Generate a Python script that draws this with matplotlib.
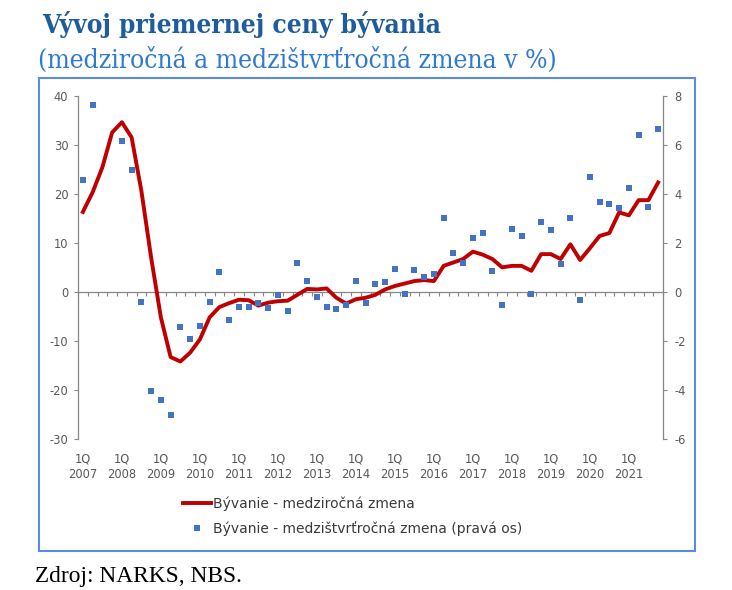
import numpy as np
import matplotlib
matplotlib.use("Agg")
import matplotlib.pyplot as plt
import matplotlib.transforms as mtransforms
from matplotlib.patches import Rectangle
from matplotlib import font_manager

plt.rcParams["axes.unicode_minus"] = False

# ---- data ----
years = list(range(2007, 2022))
quarters = [f"{y}Q{q}" for y in years for q in range(1, 5)]
tick_labels = [f"1Q\n{y}" for y in years]

yoy = [16.3, 20.3, 25.4, 32.5, 34.6, 31.5, 20.6, 7.0, -5.2, -13.3,
       -14.2, -12.4, -9.7, -5.2, -3.1, -2.3, -1.6, -1.7, -2.8, -2.2,
       -1.9, -1.8, -0.6, 0.6, 0.5, 0.7, -1.2, -2.4, -1.5, -1.2,
       -0.6, 0.5, 1.2, 1.7, 2.2, 2.4, 2.2, 5.3, 6.0, 6.7,
       8.2, 7.6, 6.7, 5.0, 5.3, 5.3, 4.3, 7.7, 7.7, 6.7,
       9.7, 6.5, 8.9, 11.4, 12.0, 16.2, 15.6, 18.7, 18.7, 22.3]

qoq = [4.56, 7.62, np.nan, np.nan, 6.16, 4.98, -0.41, -4.05, -4.41, -5.02,
       -1.43, -1.93, -1.40, -0.41, 0.79, -1.13, -0.60, -0.63, -0.44, -0.67,
       -0.14, -0.78, 1.17, 0.44, -0.20, -0.63, -0.71, -0.53, 0.44, -0.44,
       0.33, 0.41, 0.92, -0.07, 0.90, 0.60, 0.73, 3.03, 1.58, 1.16,
       2.19, 2.39, 0.86, -0.53, 2.57, 2.26, -0.10, 2.86, 2.53, 1.13,
       3.03, -0.33, 4.70, 3.65, 3.58, 3.41, 4.22, 6.40, 3.46, 6.64]

label_line = "Bývanie - medziročná zmena"
label_sq = "Bývanie - medzištvrťročná zmena (pravá os)"
title = "Vývoj priemernej ceny bývania"
subtitle = "(medziročná a medzištvrťročná zmena v %)"
source = "Zdroj: NARKS, NBS."

# condensed serif if available
serif_fam = "Liberation Serif"
serif_stretch = "normal"
try:
    fp = font_manager.FontProperties(family="DejaVu Serif", stretch="condensed")
    path = font_manager.findfont(fp, fallback_to_default=False)
    if "Condensed" in path:
        serif_fam = "DejaVu Serif"
        serif_stretch = "condensed"
except Exception:
    pass

# ---- figure ----
W, H = 732, 590
fig = plt.figure(figsize=(W / 100, H / 100), dpi=100)
fig.patch.set_facecolor("white")

def fx(px):
    return px / W

def fy(py):
    return 1 - py / H

ax_l, ax_r, ax_t, ax_b = 78, 663, 95.7, 439
ax = fig.add_axes([fx(ax_l), fy(ax_b), fx(ax_r - ax_l), (ax_b - ax_t) / H])
ax2 = ax.twinx()

x = np.arange(len(quarters))
gray = "#868686"
tcol = "#595959"

ax.plot(x, yoy, color="#C00000", lw=2.8, solid_joinstyle="round", zorder=3,
        label=label_line)
ax2.plot(x, qoq, ls="none", marker="s", ms=5.0, color="#4472C4",
         markeredgewidth=0, label=label_sq)

ax.set_xlim(-0.5, len(quarters) - 0.5)
ax.set_ylim(-30, 40)
ax2.set_ylim(-6, 8)
ax.set_yticks(np.arange(-30, 41, 10))
ax2.set_yticks(np.arange(-6, 9, 2))

for a in (ax, ax2):
    a.set_facecolor("none")
    a.spines["top"].set_visible(False)
    for s in ("left", "right"):
        a.spines[s].set_color(gray)
        a.spines[s].set_linewidth(0.9)
ax.spines["right"].set_visible(False)
ax2.spines["left"].set_visible(False)
ax2.spines["bottom"].set_visible(False)

ax.spines["bottom"].set_position(("data", 0))
ax.spines["bottom"].set_color(gray)
ax.spines["bottom"].set_linewidth(0.9)
ax.set_xticks(np.arange(-0.5, len(quarters), 1))
ax.set_xticklabels([])
ax.tick_params(axis="x", length=3, width=0.8, color=gray, direction="out")
ax.tick_params(axis="y", length=3, width=0.8, color=gray, labelcolor=tcol,
               labelsize=8.3, pad=4)
ax2.tick_params(axis="y", length=3, width=0.8, color=gray, labelcolor=tcol,
                labelsize=8.3, pad=5)

trans = mtransforms.blended_transform_factory(ax.transData, ax.transAxes)
for i, lab in enumerate(tick_labels):
    ax.text(x[i * 4], -0.038, lab, transform=trans, ha="center", va="top",
            fontsize=8.3, color=tcol, linespacing=1.3)

# legend
handles = [ax.get_lines()[0], ax2.get_lines()[0]]
fig.legend(handles, [label_line, label_sq], loc="center left",
           bbox_to_anchor=(fx(183), fy(516.5)), frameon=False,
           prop={"size": 10, "weight": "medium"}, labelcolor="#3a3a3a",
           handlelength=2.0, handletextpad=0.15, labelspacing=0.72,
           borderpad=0, borderaxespad=0)

# frame
fig.add_artist(Rectangle((fx(39), fy(551)), fx(695 - 39), (551 - 78) / H,
                         transform=fig.transFigure, fill=False,
                         edgecolor="#5B8BDF", lw=1.5))

# titles
renderer = fig.canvas.get_renderer()

def fit_text(xp, yp, s, target_w, **kw):
    t = fig.text(fx(xp), fy(yp), s, **kw)
    w = t.get_window_extent(renderer).width
    t.set_fontsize(t.get_fontsize() * target_w / w)
    return t

fit_text(42, 33, title, 397, family=serif_fam, stretch=serif_stretch,
         weight="bold", color="#1F5C9E", fontsize=19, va="baseline", ha="left")
fit_text(38, 68, subtitle, 520, family=serif_fam, stretch=serif_stretch,
         color="#2F7AD0", fontsize=18, va="baseline", ha="left")
fit_text(35, 582, source, 207, family="Liberation Serif",
         color="black", fontsize=15, va="baseline", ha="left")

fig.savefig("out.png", dpi=100, facecolor="white")
